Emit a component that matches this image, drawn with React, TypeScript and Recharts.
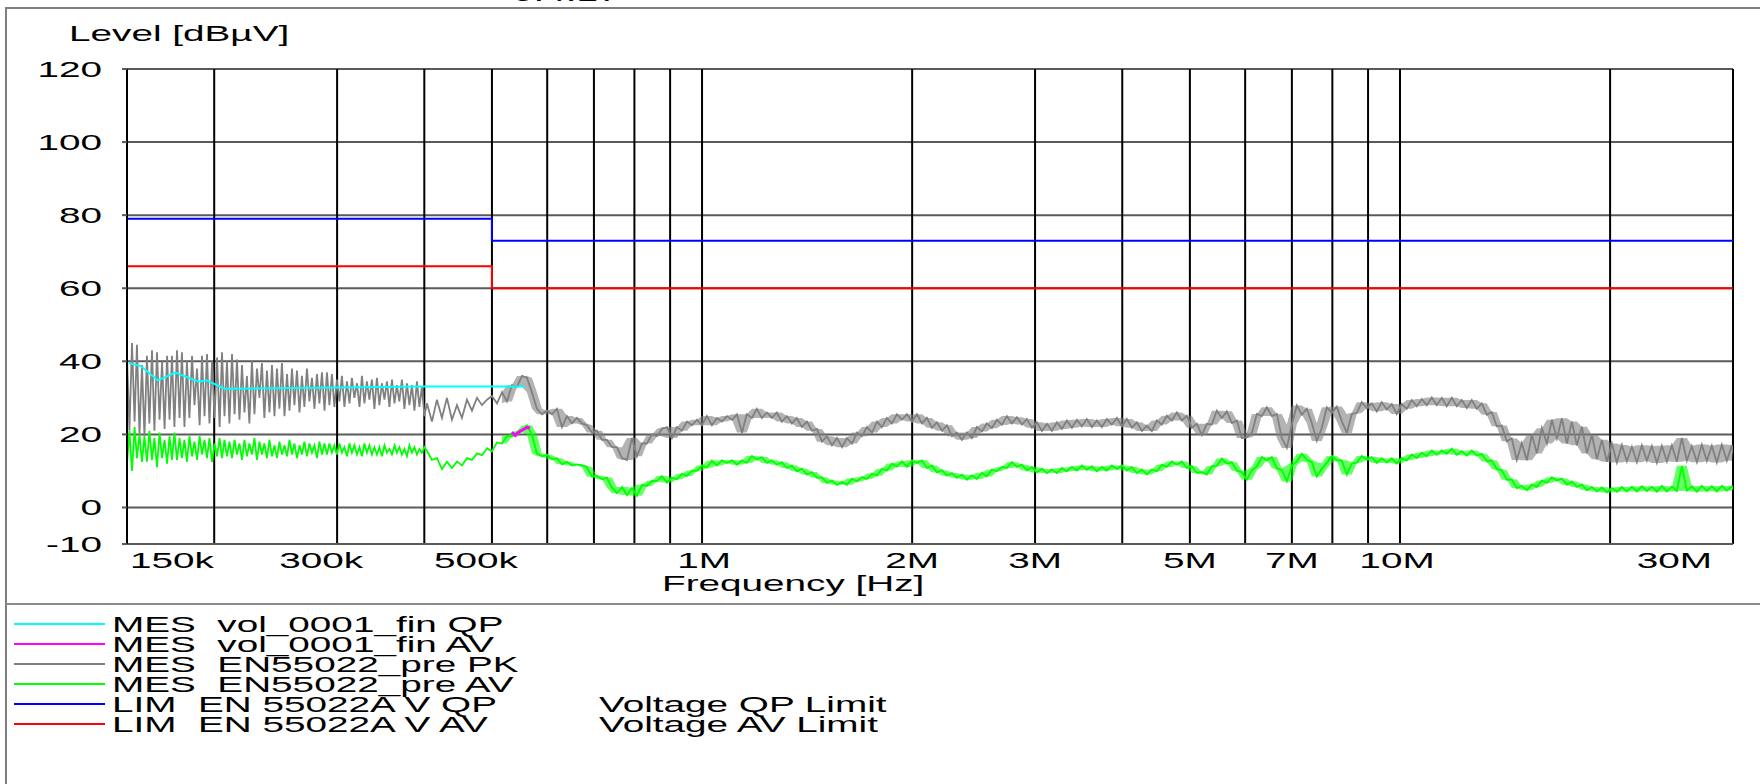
import { ComposedChart, Line, Area, XAxis, YAxis, CartesianGrid } from 'recharts'

// prescan sweep, frequency in kHz
const scanFreqs = [
  150.0, 152.5, 155.0, 157.6, 160.2, 162.9, 165.6, 168.4, 171.2, 174.0,
  176.9, 179.8, 182.8, 185.9, 189.0, 192.1, 195.3, 198.6, 201.9, 205.2,
  208.6, 212.1, 215.6, 219.2, 222.8, 226.5, 230.3, 234.1, 238.0, 242.0,
  246.0, 250.1, 254.3, 258.5, 262.8, 267.1, 271.6, 276.1, 280.7, 285.4,
  290.1, 294.9, 299.8, 304.8, 309.9, 315.0, 320.3, 325.6, 331.0, 336.5,
  342.1, 347.8, 353.6, 359.5, 365.4, 371.5, 377.7, 384.0, 390.4, 396.8,
  403.5, 410.2, 417.0, 424.0, 431.0, 438.2, 445.5, 452.9, 460.4, 468.1,
  475.9, 483.8, 491.9, 500.0, 508.4, 516.8, 525.4, 534.1, 543.0, 552.1,
  561.2, 570.5, 580.0, 589.7, 599.5, 609.4, 619.6, 629.9, 640.4, 651.0,
  661.8, 672.8, 684.0, 695.4, 706.9, 718.7, 730.6, 742.8, 755.2, 767.7,
  780.5, 793.5, 806.7, 820.1, 833.7, 847.6, 861.7, 876.0, 890.6, 905.4,
  920.4, 935.7, 951.3, 967.1, 983.2, 999.5, 1016, 1033, 1050, 1068,
  1085, 1104, 1122, 1141, 1159, 1179, 1198, 1218, 1239, 1259,
  1280, 1301, 1323, 1345, 1367, 1390, 1413, 1437, 1461, 1485,
  1510, 1535, 1561, 1587, 1613, 1640, 1667, 1695, 1723, 1752,
  1781, 1810, 1840, 1871, 1902, 1934, 1966, 1999, 2032, 2066,
  2100, 2135, 2170, 2207, 2243, 2281, 2318, 2357, 2396, 2436,
  2476, 2518, 2559, 2602, 2645, 2689, 2734, 2779, 2826, 2873,
  2920, 2969, 3018, 3069, 3120, 3171, 3224, 3278, 3332, 3388,
  3444, 3501, 3559, 3619, 3679, 3740, 3802, 3865, 3930, 3995,
  4061, 4129, 4198, 4267, 4338, 4410, 4484, 4558, 4634, 4711,
  4790, 4869, 4950, 5033, 5116, 5201, 5288, 5376, 5465, 5556,
  5648, 5742, 5838, 5935, 6033, 6134, 6236, 6339, 6445, 6552,
  6661, 6772, 6884, 6999, 7115, 7233, 7354, 7476, 7600, 7727,
  7855, 7986, 8118, 8253, 8391, 8530, 8672, 8816, 8963, 9112,
  9263, 9417, 9574, 9733, 9895, 10059, 10227, 10397, 10570, 10745,
  10924, 11106, 11290, 11478, 11669, 11863, 12060, 12261, 12465, 12672,
  12882, 13096, 13314, 13536, 13761, 13990, 14222, 14459, 14699, 14944,
  15199, 15452, 15709, 15970, 16236, 16506, 16780, 17059, 17343, 17632,
  17924, 18222, 18526, 18834, 19147, 19465, 19789, 20118, 20453, 20793,
  21138, 21490, 21847, 22210, 22580, 22955, 23337, 23725, 24120, 24521,
  24926, 25341, 25762, 26191, 26627, 27069, 27519, 27977, 28442, 28915,
  29396, 29885, 30000,
]

// extra readings between the first sweep points (150k - 400k, spiky part)
const halfFreqs = [
  151.2, 153.8, 156.3, 158.9, 161.5, 164.2, 167.0, 169.8, 172.6, 175.4,
  178.4, 181.3, 184.3, 187.4, 190.6, 193.7, 196.9, 200.2, 203.6, 206.9,
  210.3, 213.9, 217.4, 221.0, 224.6, 228.4, 232.2, 236.0, 240.0, 244.0,
  248.0, 252.2, 256.4, 260.6, 265.0, 269.3, 273.8, 278.4, 283.0, 287.8,
  292.5, 297.3, 302.3, 307.3, 312.5, 317.6, 323.0, 328.3, 333.7, 339.3,
  344.9, 350.7, 356.5, 362.5, 368.4, 374.6, 380.8, 387.2, 393.6, 400.1,
]

// MES EN55022_pre PK (dBuV)
const pkLevels = [
  41.5, 45, 44.5, 39, 41.5, 43, 42.5, 40, 41.5, 41.5,
  43, 42.5, 40, 41.5, 38, 41.5, 42, 40, 41, 42.5,
  40, 42, 40.5, 39, 36, 40, 38, 39.5, 37.5, 39,
  38, 39.5, 36.5, 38, 37.5, 36, 38, 35.5, 36.5, 37,
  37, 36.5, 35, 36, 34.5, 35.5, 34, 36, 34.5, 35,
  35.5, 34, 34.5, 35, 33.5, 35, 34, 33.5, 34.5, 33,
  28.5, 23.5, 29.5, 24.5, 30, 24, 28, 24.5, 29.5, 26.5,
  30, 28, 29.5, 30.5, 28.5, 31.5, 29, 33.5, 33, 36,
  35.5, 31.5, 27, 25.5, 26.5, 25.5, 27, 22, 25, 23,
  24.5, 23, 22.5, 20.5, 21, 18.5, 18.5, 16.5, 16.5, 13.5,
  13, 19, 14, 17.5, 17.5, 20, 19.5, 21.5, 22, 19,
  22, 21, 23.5, 22.5, 24, 22.5, 25, 22.5, 24.5, 23.5,
  25, 24, 25.5, 20.5, 25.5, 24.5, 27, 24.5, 26, 24.5,
  26, 23.5, 25, 23, 24.5, 22, 23.5, 21, 21.5, 18,
  19.5, 17, 19, 16.5, 19, 17.5, 20.5, 19.5, 22, 20.5,
  23.5, 22, 24.5, 23, 25.5, 24, 25.5, 23.5, 25.5, 23,
  24.5, 21.8, 23.3, 21, 22.5, 19.5, 20.5, 18.5, 20.5, 19,
  22, 20.8, 23, 21.7, 24, 22.6, 25, 23, 24.7, 22.7,
  24.2, 21.8, 23.3, 20.9, 22.9, 21, 23.3, 21.5, 23.8, 21.8,
  24, 22.2, 24.2, 22, 23.8, 22, 24.2, 22.7, 24.5, 22.2,
  24.2, 21.8, 23.3, 20.9, 22.4, 20.9, 23.8, 22.7, 25.1, 23.8,
  26, 23.8, 25.1, 21.8, 22.9, 19.8, 22.9, 22.7, 26.5, 24.5,
  26.3, 23.1, 23.8, 19, 19.2, 20.4, 25.6, 25, 27.4, 25,
  25.6, 19, 16.3, 22.7, 27.9, 25.4, 27, 23.1, 18.2, 21.8,
  27.4, 25.9, 27.6, 23.6, 20.4, 25.6, 25.9, 28.8, 27.2, 28.5,
  26.3, 28.8, 26.8, 28.3, 25.6, 28.3, 27, 29.4, 27.7, 29.7,
  28, 30.1, 28, 30, 27.7, 30, 27.7, 29.4, 27.2, 29.4,
  27, 28.5, 25.4, 26.1, 22.2, 22.4, 18.1, 18.9, 13, 17.6,
  12.9, 19.9, 14.8, 21.7, 17.5, 24, 18.9, 24.4, 17.5, 23.5,
  17, 22.1, 14.8, 19.9, 13.2, 18.5, 12.5, 17.5, 12.3, 17.1,
  12.6, 16.6, 12.4, 17, 12.8, 16.8, 12.2, 16.9, 12.6, 17,
  12.5, 19, 12.8, 16.8, 12.4, 17.2, 12.7, 16.9, 12.3, 17.2,
  12.8, 17, 15,
]
const pkHalfLevels = [
  21, 23.5, 20, 19.5, 23, 21, 24, 21.5, 24, 22,
  24.5, 22, 24.5, 28, 22.5, 25, 23, 24.5, 22, 25,
  23, 25.5, 24, 26, 23, 25.5, 30, 24.5, 26, 25,
  27, 25, 26.5, 28, 26, 27.5, 29, 27, 28.5, 26.5,
  28, 27.5, 29, 27.5, 28.5, 30, 27.5, 28.5, 29.5, 27,
  28, 29.5, 27.5, 28.5, 29, 27, 28, 26.5, 27.5, 25,
]

// MES EN55022_pre AV (dBuV)
const avPreLevels = [
  12, 10, 13.5, 12.5, 12.5, 13, 11, 13.5, 12, 13,
  13, 13.5, 12.5, 14, 13, 14.5, 13.5, 12.5, 14, 13.5,
  14, 13.5, 14.5, 13, 14, 14.5, 13, 14.5, 13.5, 14,
  13.5, 14.5, 14, 14.5, 13.5, 14.5, 14, 15, 13.5, 14.5,
  14.5, 15, 14.5, 15, 14, 15, 14.5, 14, 15, 14.5,
  14.5, 14, 15, 14.5, 15, 14.5, 14, 15, 14.5, 15,
  15.5, 13, 13.5, 10.5, 12.5, 10.8, 12.6, 11.5, 13.5, 13,
  14.8, 14.3, 16.2, 15.3, 17.8, 17.5, 19.6, 19.4, 20.6, 21,
  22.5, 20, 14.8, 14, 14.4, 13.2, 13.5, 11.8, 12.5, 11.5,
  11.8, 11.5, 11, 8.4, 8.7, 7.7, 8.2, 5.4, 3.9, 5.6,
  3.4, 5.3, 3.2, 6.2, 5.9, 7.3, 7.2, 8.6, 6.8, 8.1,
  7.7, 9.2, 8.6, 10.1, 10, 11.5, 10.9, 12.8, 11.5, 12.9,
  12.2, 12.9, 11.7, 12.9, 12.2, 14.1, 13.1, 13.8, 12.2, 12.9,
  11.7, 12.4, 10.8, 11.5, 9.9, 10.6, 9, 9.7, 8.1, 8.3,
  6.7, 7.4, 6.2, 7, 6.2, 7.9, 7.1, 8.3, 7.8, 9.3,
  8.7, 10.6, 10.1, 12, 11.2, 12.6, 11.1, 12.9, 12.2, 12.9,
  10.8, 11.5, 9.6, 10.2, 8.7, 9.4, 8.1, 9, 7.6, 8.8,
  7.8, 9.5, 8.5, 10.4, 9.9, 11.1, 10.8, 12.4, 11.1, 11.7,
  10.1, 11.1, 9.6, 10.6, 9.4, 10.4, 9.4, 10.8, 9.9, 11.1,
  10.1, 11.5, 10.3, 11.3, 9.9, 11.1, 10.1, 11.5, 10.5, 11.5,
  10.1, 11.1, 9.4, 10.4, 9, 10.4, 9.9, 11.7, 11.1, 12.6,
  11.7, 12.6, 10.8, 11.3, 9.4, 9.7, 9, 11.3, 11.4, 13.4,
  12, 12.4, 10.1, 9.7, 7.6, 10.2, 11.2, 13.8, 12.9, 13.8,
  10.8, 10.2, 7.1, 11.5, 12.6, 14.7, 13.1, 12.4, 8.5, 10.6,
  12.2, 14.1, 12.9, 12.9, 9, 12, 12.3, 14.1, 13.1, 13.8,
  12.2, 13.5, 12.3, 13.5, 12, 13.5, 12.9, 14.5, 13.5, 15,
  14, 15.6, 14.4, 15.6, 14.7, 16.1, 14.4, 15.4, 14.2, 15.6,
  14.2, 14.7, 12.6, 12.9, 10.5, 10.2, 7.6, 7.7, 5.3, 5.9,
  4.7, 6.3, 5.6, 7.4, 6.7, 8.3, 7.4, 7.9, 6.2, 7.1,
  5.6, 6.3, 4.7, 5.6, 4.4, 5.5, 4.1, 5.3, 4.3, 5.6,
  4.4, 5.7, 4.4, 5.8, 4.5, 5.7, 4.3, 5.9, 4.4, 5.7,
  4.5, 11.4, 4.6, 5.8, 4.3, 5.9, 4.5, 5.8, 4.4, 5.9,
  4.6, 5.8, 5,
]
const avPreHalfLevels = [
  21, 22, 20, 19.5, 21, 19, 20.5, 18.5, 19.5, 20.5,
  19, 18.5, 19.5, 18, 19.5, 18.5, 19, 17.5, 19, 18.5,
  18, 18.5, 17.5, 18.5, 17.5, 19, 18, 17.5, 18.5, 17,
  18, 17, 18.5, 17.5, 17, 18, 17.5, 17, 18, 17.5,
  17.5, 17, 17.5, 16.5, 17.5, 17, 16.5, 17.5, 17, 16.5,
  16.5, 17, 16, 17, 16.5, 16, 17, 16.5, 16, 16.5,
]

// final measurements
const qpFreqs = [151, 157, 166, 176, 190, 195, 207, 296, 399, 557]
const qpLevels = [39.5, 38.7, 34.8, 36.9, 34.4, 34.8, 32.5, 32.8, 33.1, 33.1]
const avFinFreqs = [534, 540, 548, 561, 567]
const avFinLevels = [20.6, 19.7, 20.8, 21.9, 21.8]

// EN 55022 class A limits
const limFreqs = [150, 500, 500, 30000]
const limQpLevels = [79, 79, 73, 73]
const limAvLevels = [66, 66, 60, 60]

const gridFreqs = [
  150, 200, 300, 400, 500, 600, 700, 800, 900,
  1000, 2000, 3000, 4000, 5000, 6000, 7000, 8000, 9000,
  10000, 20000, 30000,
]
const labelFreqs = [150, 300, 500, 1000, 2000, 3000, 5000, 7000, 10000, 30000]
const labelTexts = ['150k', '300k', '500k', '1M', '2M', '3M', '5M', '7M', '10M', '30M']
const labelShift = [3, -16, -16, 2, 0, 0, 0, 0, -3, -21]
const levelTicks = [-10, 0, 20, 40, 60, 80, 100, 120]

const legendNames = [
  'MES  vol_0001_fin QP',
  'MES  vol_0001_fin AV',
  'MES  EN55022_pre PK',
  'MES  EN55022_pre AV',
  'LIM  EN 55022A V QP',
  'LIM  EN 55022A V AV',
]
const legendNotes = ['', '', '', '', 'Voltage QP Limit', 'Voltage AV Limit']
const legendColors = ['#00ffff', '#ff00ff', '#808080', '#00ff00', '#0000ff', '#ff0000']

// sweep point (in scanFreqs) from which the trace is a dense noise band
const DENSE_FROM = 75

// put the in-between readings after each of the first sweep points
const interleave = (main: number[], half: number[]) =>
  main.flatMap((v, i) => (i < half.length ? [v, half[i]] : [v]))

const toPoints = (fs: number[], vs: number[]) => fs.map((f, i) => ({ f, v: vs[i] }))

// noise envelope of the sweep: spread of each reading and its neighbours
const withBand = (fs: number[], vs: number[]) =>
  fs.map((f, i) => {
    const a = vs[Math.max(i - 1, 0)]
    const b = vs[i]
    const c = vs[Math.min(i + 1, vs.length - 1)]
    return { f, v: b, band: [Math.min(a, b, c), Math.max(a, b, c)] }
  })

const sweepFreqs = interleave(scanFreqs, halfFreqs)
const pkData = withBand(sweepFreqs, interleave(pkLevels, pkHalfLevels))
const avPreData = withBand(sweepFreqs, interleave(avPreLevels, avPreHalfLevels))
const denseStart = DENSE_FROM + halfFreqs.length
const pkDense = pkData.slice(denseStart)
const avDense = avPreData.slice(denseStart)
const qpData = toPoints(qpFreqs, qpLevels)
const avFinData = toPoints(avFinFreqs, avFinLevels)
const limQpData = toPoints(limFreqs, limQpLevels)
const limAvData = toPoints(limFreqs, limAvLevels)

const FONT = "'Liberation Sans', Arial, Helvetica, sans-serif"
const SX = 1.76

function Stretch({ x, y, anchor = 'start', children }: any) {
  return (
    <text
      transform={`translate(${x} ${y}) scale(${SX} 1)`}
      textAnchor={anchor}
      fontSize={22}
      fontFamily={FONT}
      fill='#000'
      style={{ whiteSpace: 'pre' }}
    >
      {children}
    </text>
  )
}

function FreqTick({ x, y, payload }: any) {
  const i = labelFreqs.indexOf(payload.value)
  if (i < 0) return <g />
  const anchor = i === 0 ? 'start' : i === labelFreqs.length - 1 ? 'end' : 'middle'
  return (
    <Stretch x={x + labelShift[i]} y={y + 24} anchor={anchor}>
      {labelTexts[i]}
    </Stretch>
  )
}

function LevelTick({ x, y, payload }: any) {
  return (
    <Stretch x={x} y={y + 8} anchor='end'>
      {String(payload.value)}
    </Stretch>
  )
}

const common = { dot: false, activeDot: false, isAnimationActive: false, type: 'linear' as const }

export default function App() {
  return (
    <div style={{ position: 'absolute', left: 0, top: 0, width: 1760, height: 784, background: '#fff' }}>
      <ComposedChart width={1760} height={784} margin={{ top: 69, right: 27, bottom: 0, left: 0 }}>
        <CartesianGrid vertical={false} stroke='#5a5a5a' strokeWidth={2} />
        <CartesianGrid horizontal={false} stroke='#000' strokeWidth={2} />
        <XAxis
          dataKey='f'
          type='number'
          scale='log'
          domain={[150, 30000]}
          allowDataOverflow
          ticks={gridFreqs}
          interval={0}
          height={240}
          tickLine={false}
          tickSize={0}
          tickMargin={0}
          axisLine={{ stroke: '#5a5a5a', strokeWidth: 2 }}
          tick={<FreqTick />}
        />
        <YAxis
          type='number'
          domain={[-10, 120]}
          ticks={levelTicks}
          interval={0}
          width={127}
          tickSize={5}
          tickMargin={20}
          tickLine={{ stroke: '#5a5a5a', strokeWidth: 2 }}
          axisLine={{ stroke: '#000', strokeWidth: 2 }}
          tick={<LevelTick />}
        />
        <Area data={pkDense} dataKey='band' {...common} stroke='none' fill='#808080' fillOpacity={0.6} />
        <Line data={pkData} dataKey='v' {...common} stroke='#808080' strokeWidth={1.8} />
        <Area data={avDense} dataKey='band' {...common} stroke='none' fill='#00ff00' fillOpacity={0.6} />
        <Line data={avPreData} dataKey='v' {...common} stroke='#00ff00' strokeWidth={1.8} />
        <Line data={limQpData} dataKey='v' {...common} stroke='#0000ff' strokeWidth={2} />
        <Line data={limAvData} dataKey='v' {...common} stroke='#ff0000' strokeWidth={2} />
        <Line data={qpData} dataKey='v' {...common} stroke='#00ffff' strokeWidth={2} />
        <Line data={avFinData} dataKey='v' {...common} stroke='#ff00ff' strokeWidth={3} />
      </ComposedChart>
      <svg width={1760} height={784} style={{ position: 'absolute', left: 0, top: 0, pointerEvents: 'none' }}>
        <rect x={6} y={8} width={1800} height={820} fill='none' stroke='#7f7f7f' strokeWidth={2} />
        <line x1={6} x2={1760} y1={604} y2={604} stroke='#8a8a8a' strokeWidth={2} />
        <Stretch x={512} y={1}>6.4.17</Stretch>
        <Stretch x={69} y={41}>Level [dBµV]</Stretch>
        <Stretch x={662} y={591}>Frequency [Hz]</Stretch>
        {legendNames.map((name, i) => {
          const cy = 624 + i * 20
          return (
            <g key={name}>
              <line x1={14} x2={105} y1={cy} y2={cy} stroke={legendColors[i]} strokeWidth={2} />
              <Stretch x={112} y={cy + 8}>{name}</Stretch>
              {legendNotes[i] && <Stretch x={599} y={cy + 8}>{legendNotes[i]}</Stretch>}
            </g>
          )
        })}
      </svg>
    </div>
  )
}
